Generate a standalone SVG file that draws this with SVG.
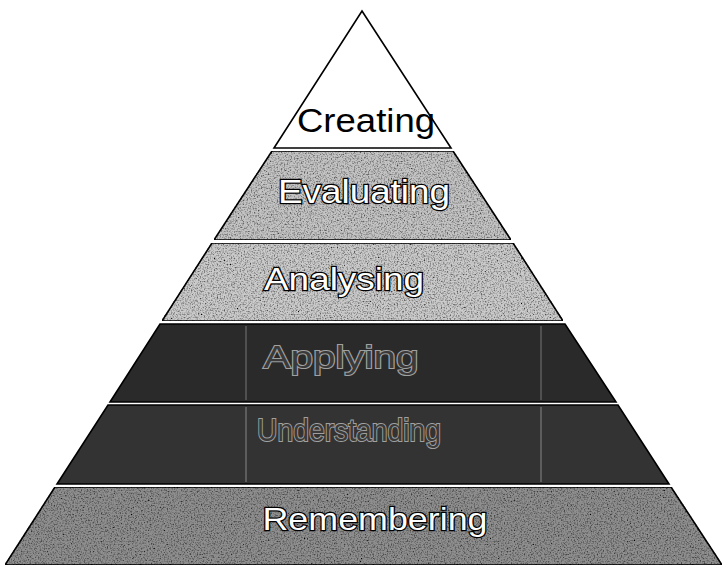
<svg xmlns="http://www.w3.org/2000/svg" width="727" height="573" viewBox="0 0 727 573">
<defs>
<style>
.band{stroke:#000;stroke-width:1.6;stroke-linejoin:miter}
.lbl{font-family:"Liberation Sans",Arial,sans-serif;text-anchor:middle}
.light{fill:#fff;stroke:#000;stroke-width:2.4;paint-order:stroke}
.dark{fill:#3a3a3a;stroke:#a0a0a0;stroke-width:2;paint-order:stroke}
</style>
<filter id="grain" x="0" y="0" width="100%" height="100%">
<feTurbulence type="fractalNoise" baseFrequency="0.7" numOctaves="2" seed="3" result="n"/>
<feColorMatrix in="n" type="matrix" values="0 0 0 0 0  0 0 0 0 0  0 0 0 0 0  0 0 0 -2.2 1.25" result="dots"/>
<feComposite in="dots" in2="SourceGraphic" operator="in" result="d2"/>
<feMerge><feMergeNode in="SourceGraphic"/><feMergeNode in="d2"/></feMerge>
</filter>
</defs>
<rect width="727" height="573" fill="#fff"/>
<g id="creating">
<polygon class="band" points="362,11 451,148 274,148" fill="#fff"/>
<text class="lbl" x="366" y="132" font-size="34" textLength="138" lengthAdjust="spacingAndGlyphs" fill="#000">Creating</text>
</g>
<g id="evaluating">
<polygon class="band" points="272,151 453,151 511,240 214,240" fill="#c4c4c4" filter="url(#grain)"/>
<text class="lbl light" x="364" y="203" font-size="33" textLength="172" lengthAdjust="spacingAndGlyphs">Evaluating</text>
</g>
<g id="analysing">
<polygon class="band" points="212,243 513,243 563,321 162,321" fill="#cbcbcb" filter="url(#grain)"/>
<text class="lbl light" x="344" y="290" font-size="31" textLength="160" lengthAdjust="spacingAndGlyphs">Analysing</text>
</g>
<g id="applying">
<polygon class="band" points="160,324 565,324 616,402 110,402" fill="#2a2a2a"/>
<line x1="246" y1="326" x2="246" y2="400" stroke="#777" stroke-width="1"/>
<line x1="541" y1="326" x2="541" y2="400" stroke="#777" stroke-width="1"/>
<text class="lbl dark" x="341" y="368" font-size="32" textLength="155" lengthAdjust="spacingAndGlyphs">Applying</text>
</g>
<g id="understanding">
<polygon class="band" points="108,405 618,405 669,484 57,484" fill="#333"/>
<line x1="246" y1="407" x2="246" y2="482" stroke="#888" stroke-width="1"/>
<line x1="541" y1="407" x2="541" y2="482" stroke="#888" stroke-width="1"/>
<text class="lbl dark" x="349" y="441" font-size="31" textLength="184" lengthAdjust="spacingAndGlyphs">Understanding</text>
</g>
<g id="remembering">
<polygon class="band" points="55,487 671,487 722,565 5,565" fill="#8f8f8f" filter="url(#grain)"/>
<text class="lbl light" x="375" y="530" font-size="32" textLength="225" lengthAdjust="spacingAndGlyphs">Remembering</text>
</g>
</svg>
